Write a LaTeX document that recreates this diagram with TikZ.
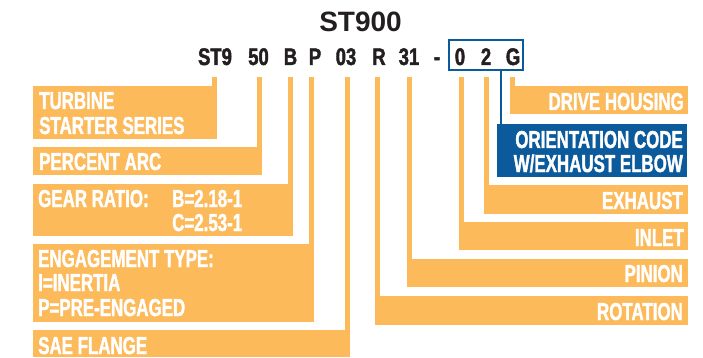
\documentclass[tikz,border=0pt]{standalone}
\usepackage{fontspec}
\newfontfamily\condfont{Liberation Sans Bold}[FakeStretch=0.69,FakeBold=1.5]
\newfontfamily\codefont{Liberation Sans Bold}[FakeStretch=0.77,FakeBold=1.8]
\newfontfamily\titlefont{Liberation Sans Bold}
\definecolor{orng}{HTML}{FCBA5B}
\definecolor{bluec}{HTML}{0B5A9B}
\definecolor{ink}{HTML}{231F20}
\tikzset{
  box/.style={fill=#1,draw=none,inner sep=0pt,anchor=north west},
  lbl/.style={text=white,inner sep=0pt,font=\condfont\fontsize{24.5}{24.5}\selectfont},
  tok/.style={text=ink,inner sep=0pt,anchor=base,font=\codefont\fontsize{24}{24}\selectfont},
  bar/.style={draw=orng,line width=5pt,line cap=butt},
  blueline/.style={draw=bluec,line width=2pt,line cap=butt},
}
\newcommand{\mkbox}[6]{% name, x1,y1,x2,y2,color
  \node[box=#6,minimum width={(#4-#2)*1pt},minimum height={(#5-#3)*1pt}] (#1) at (#2,#3) {};}
\begin{document}
\begin{tikzpicture}[x=1pt,y=-1pt]
\useasboundingbox (0,0) rectangle (703,358);
% title
\node[text=ink,inner sep=0pt,anchor=base,font=\titlefont\fontsize{28}{28}\selectfont] (title) at (360.5,32) {ST900};
% code tokens
\node[tok] (kST) at (215,65) {ST9};
\node[tok] (k50) at (258.5,65) {50};
\node[tok] (kB) at (290.5,65) {B};
\node[tok] (kP) at (315,65) {P};
\node[tok] (k03) at (346,65) {03};
\node[tok] (kR) at (379,65) {R};
\node[tok] (k31) at (409,65) {31};
\node[tok] (kdash) at (437,65) {-};
\node[tok] (k0) at (460,65) {0};
\node[tok] (k2) at (486,65) {2};
\node[tok] (kG) at (513,65) {G};
\draw[blueline] (449,40) rectangle (523,70);
\node[inner sep=0pt,minimum width=76pt,minimum height=32pt,anchor=north west] (codebox) at (448,39) {};
% boxes
\mkbox{turb}{33}{86}{217}{139}{orng}
\mkbox{perc}{33}{147}{262}{175}{orng}
\mkbox{gear}{33}{184}{293}{236}{orng}
\mkbox{eng}{33}{244}{314}{322}{orng}
\mkbox{sae}{33}{330}{350}{357}{orng}
\mkbox{drive}{510}{86}{688}{114}{orng}
\mkbox{orient}{497}{124}{687}{177}{bluec}
\mkbox{exh}{484}{185}{688}{214}{orng}
\mkbox{inl}{459}{222}{688}{250}{orng}
\mkbox{pin}{407}{259}{688}{287}{orng}
\mkbox{rot}{375}{296}{688}{325}{orng}
% bar tops
\coordinate (bST) at (214.5,77);
\coordinate (b50) at (259.5,77);
\coordinate (bB) at (290.5,77);
\coordinate (bP) at (311.5,77);
\coordinate (b03) at (347.5,77);
\coordinate (bR) at (377.5,77);
\coordinate (b31) at (409.5,77);
\coordinate (b0) at (461.5,77);
\coordinate (b2) at (486.5,77);
\coordinate (bG) at (512.5,77);
\draw[bar] (bST) -- (bST |- turb.center);
\draw[bar] (b50) -- (b50 |- perc.center);
\draw[bar] (bB) -- (bB |- gear.center);
\draw[bar] (bP) -- (bP |- eng.center);
\draw[bar] (b03) -- (b03 |- sae.center);
\draw[bar] (bR) -- (bR |- rot.center);
\draw[bar] (b31) -- (b31 |- pin.center);
\draw[bar] (b0) -- (b0 |- inl.center);
\draw[bar] (b2) -- (b2 |- exh.center);
\draw[bar] (bG) -- (bG |- drive.center);
\coordinate (bblue) at (501,71);
\draw[blueline] (bblue) -- (bblue |- orient.north);
% labels left
\node[lbl,anchor=base west] (tT1) at (39,109) {TURBINE};
\node[lbl,anchor=base west] (tT2) at (39,134) {STARTER SERIES};
\node[lbl,anchor=base west] (tP) at (39,170) {PERCENT ARC};
\node[lbl,anchor=base west] (tG1) at (38,207) {GEAR RATIO:};
\node[lbl,anchor=base west] (tG2) at (172,207) {B=2.18-1};
\node[lbl,anchor=base west] (tG3) at (172,231) {C=2.53-1};
\node[lbl,anchor=base west] (tE1) at (38,267) {ENGAGEMENT TYPE:};
\node[lbl,anchor=base west] (tE2) at (38,291) {I=INERTIA};
\node[lbl,anchor=base west] (tE3) at (38,316) {P=PRE-ENGAGED};
\node[lbl,anchor=base west] (tS) at (38,354) {SAE FLANGE};
% labels right
\node[lbl,anchor=base east] (tD) at (684,110) {DRIVE HOUSING};
\node[lbl,anchor=base east] (tO1) at (683,148) {ORIENTATION CODE};
\node[lbl,anchor=base east] (tO2) at (683,172) {W/EXHAUST ELBOW};
\node[lbl,anchor=base east] (tX) at (683,209) {EXHAUST};
\node[lbl,anchor=base east] (tI) at (684,246) {INLET};
\node[lbl,anchor=base east] (tPi) at (683,282) {PINION};
\node[lbl,anchor=base east] (tR) at (683,320) {ROTATION};
\end{tikzpicture}
\end{document}
